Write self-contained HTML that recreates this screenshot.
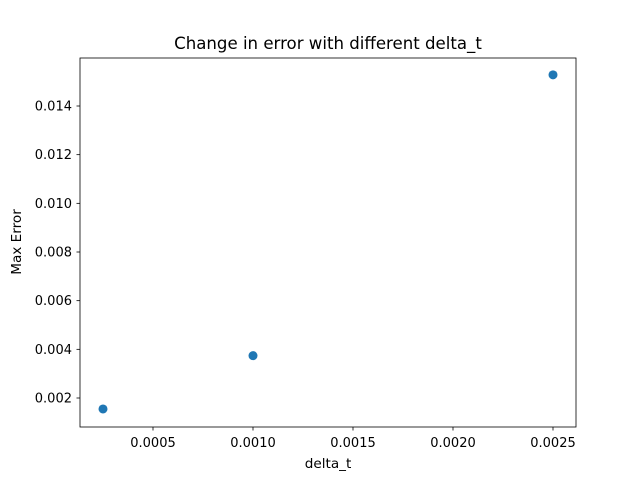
<!DOCTYPE html>
<html><head><meta charset="utf-8"><style>body{margin:0;background:#fff}svg{display:block;font-family:"DejaVu Sans",sans-serif}</style></head>
<body>
<svg id="chart" width="640" height="480">
<rect width="640" height="480" fill="#fff"/>
<text x="328" y="49" font-size="16.6" text-anchor="middle">Change in error with different delta_t</text>
<text x="328" y="468" font-size="13.6" text-anchor="middle">delta_t</text>
<text transform="translate(21,242) rotate(-90)" font-size="13.6" text-anchor="middle">Max Error</text>
<g id="ticks"></g>
<g id="points"></g>
<rect x="80" y="58" width="496" height="369" fill="none" stroke="#000" stroke-width="0.8"/>
</svg>
<script>
const xValues = [0.00025, 0.001, 0.0025];
const yValues = [0.00155, 0.00374, 0.01528];
const xTicks = [0.0005, 0.0010, 0.0015, 0.0020, 0.0025];
const xTickLabels = ["0.0005", "0.0010", "0.0015", "0.0020", "0.0025"];
const yTicks = [0.002, 0.004, 0.006, 0.008, 0.010, 0.012, 0.014];
const yTickLabels = ["0.002", "0.004", "0.006", "0.008", "0.010", "0.012", "0.014"];
const NS = "http://www.w3.org/2000/svg";
function xs(v){return 153 + (v - 0.0005) * 200000;}
function ys(v){return 398 - (v - 0.002) * 24333;}
function mk(tag, attrs, parent){const e=document.createElementNS(NS,tag);for(const k in attrs)e.setAttribute(k,attrs[k]);parent.appendChild(e);return e;}
const tg=document.getElementById('ticks');
xTicks.forEach((v,i)=>{
  const x=xs(v);
  const l=mk('line',{x1:x,x2:x,y1:427,y2:430.5,stroke:'#000','stroke-width':0.8},tg);
  
  
  const t=mk('text',{x:x,y:447,'font-size':13,'text-anchor':'middle'},tg);
  t.textContent=xTickLabels[i];
  
  
});
yTicks.forEach((v,i)=>{
  const y=ys(v);
  const l=mk('line',{x1:76.5,x2:80,y1:y,y2:y,stroke:'#000','stroke-width':0.8},tg);
  
  
  const t=mk('text',{x:72,y:y+4.5,'font-size':13,'text-anchor':'end'},tg);
  t.textContent=yTickLabels[i];
  
  
});
const pg=document.getElementById('points');
xValues.forEach((v,i)=>{
  const c=mk('circle',{cx:xs(v),cy:ys(yValues[i]),r:4.5,fill:'#1f77b4'},pg);
  
  
});
</script>
</body></html>
